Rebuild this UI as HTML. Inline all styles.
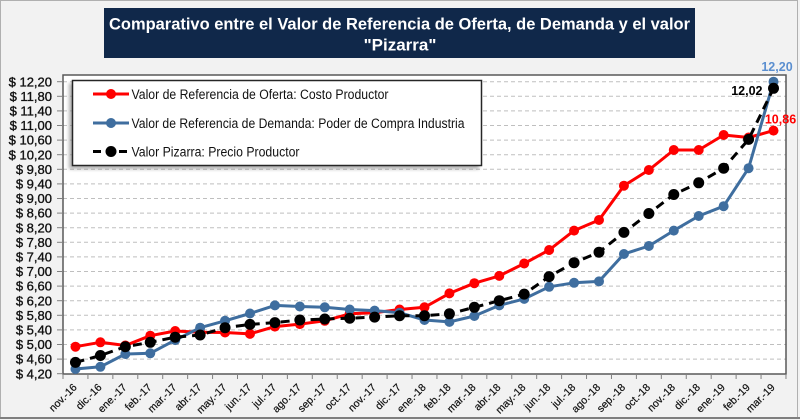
<!DOCTYPE html>
<html>
<head>
<meta charset="utf-8">
<style>
html,body{margin:0;padding:0;}
body{width:800px;height:420px;overflow:hidden;background:#f2f2f2;}
svg{display:block;}
</style>
</head>
<body>
<svg width="800" height="420" viewBox="0 0 800 420" xmlns="http://www.w3.org/2000/svg" font-family="'Liberation Sans', sans-serif">
  <defs>
    <filter id="sh" x="-10%" y="-20%" width="120%" height="150%">
      <feGaussianBlur stdDeviation="1.8"/>
    </filter>
  </defs>
  <rect x="0" y="0" width="800" height="420" fill="#f2f2f2"/>
  <rect x="0.5" y="0.5" width="797" height="417" fill="none" stroke="#b0b0b0" stroke-width="1"/>
  <line x1="0" y1="418" x2="800" y2="418" stroke="#7f7f7f" stroke-width="2"/>

  <rect x="104" y="8" width="591" height="50" fill="#10284a"/>
  <text x="399.5" y="29.3" fill="#ffffff" font-weight="bold" font-size="17" text-anchor="middle" textLength="581" lengthAdjust="spacingAndGlyphs">Comparativo entre el Valor de Referencia de Oferta, de Demanda y el valor</text>
  <text x="400" y="50.5" fill="#ffffff" font-weight="bold" font-size="17" text-anchor="middle">"Pizarra"</text>

  <rect x="63" y="75" width="723" height="299" fill="#ffffff"/>

  <g stroke="#bfbfbf" stroke-width="1" stroke-dasharray="4,3">
    <line x1="63" x2="786" y1="359.1" y2="359.1"/>
    <line x1="63" x2="786" y1="344.5" y2="344.5"/>
    <line x1="63" x2="786" y1="329.9" y2="329.9"/>
    <line x1="63" x2="786" y1="315.3" y2="315.3"/>
    <line x1="63" x2="786" y1="300.7" y2="300.7"/>
    <line x1="63" x2="786" y1="286.1" y2="286.1"/>
    <line x1="63" x2="786" y1="271.5" y2="271.5"/>
    <line x1="63" x2="786" y1="256.9" y2="256.9"/>
    <line x1="63" x2="786" y1="242.3" y2="242.3"/>
    <line x1="63" x2="786" y1="227.7" y2="227.7"/>
    <line x1="63" x2="786" y1="213.1" y2="213.1"/>
    <line x1="63" x2="786" y1="198.5" y2="198.5"/>
    <line x1="63" x2="786" y1="183.9" y2="183.9"/>
    <line x1="63" x2="786" y1="169.3" y2="169.3"/>
    <line x1="63" x2="786" y1="154.7" y2="154.7"/>
    <line x1="63" x2="786" y1="140.1" y2="140.1"/>
    <line x1="63" x2="786" y1="125.5" y2="125.5"/>
    <line x1="63" x2="786" y1="110.9" y2="110.9"/>
    <line x1="63" x2="786" y1="96.3" y2="96.3"/>
    <line x1="63" x2="786" y1="81.7" y2="81.7"/>
  </g>

  <rect x="63" y="75" width="723" height="299" fill="none" stroke="#595959" stroke-width="1.5"/>

  <g stroke="#808080" stroke-width="1">
    <line x1="57" x2="63" y1="373.7" y2="373.7"/>
    <line x1="57" x2="63" y1="359.1" y2="359.1"/>
    <line x1="57" x2="63" y1="344.5" y2="344.5"/>
    <line x1="57" x2="63" y1="329.9" y2="329.9"/>
    <line x1="57" x2="63" y1="315.3" y2="315.3"/>
    <line x1="57" x2="63" y1="300.7" y2="300.7"/>
    <line x1="57" x2="63" y1="286.1" y2="286.1"/>
    <line x1="57" x2="63" y1="271.5" y2="271.5"/>
    <line x1="57" x2="63" y1="256.9" y2="256.9"/>
    <line x1="57" x2="63" y1="242.3" y2="242.3"/>
    <line x1="57" x2="63" y1="227.7" y2="227.7"/>
    <line x1="57" x2="63" y1="213.1" y2="213.1"/>
    <line x1="57" x2="63" y1="198.5" y2="198.5"/>
    <line x1="57" x2="63" y1="183.9" y2="183.9"/>
    <line x1="57" x2="63" y1="169.3" y2="169.3"/>
    <line x1="57" x2="63" y1="154.7" y2="154.7"/>
    <line x1="57" x2="63" y1="140.1" y2="140.1"/>
    <line x1="57" x2="63" y1="125.5" y2="125.5"/>
    <line x1="57" x2="63" y1="110.9" y2="110.9"/>
    <line x1="57" x2="63" y1="96.3" y2="96.3"/>
    <line x1="57" x2="63" y1="81.7" y2="81.7"/>
  </g>

  <g font-size="13" fill="#111" stroke="#111" stroke-width="0.35" text-anchor="end">
    <text x="52" y="378.3">$ 4,20</text>
    <text x="52" y="363.7">$ 4,60</text>
    <text x="52" y="349.1">$ 5,00</text>
    <text x="52" y="334.5">$ 5,40</text>
    <text x="52" y="319.9">$ 5,80</text>
    <text x="52" y="305.3">$ 6,20</text>
    <text x="52" y="290.7">$ 6,60</text>
    <text x="52" y="276.1">$ 7,00</text>
    <text x="52" y="261.5">$ 7,40</text>
    <text x="52" y="246.9">$ 7,80</text>
    <text x="52" y="232.3">$ 8,20</text>
    <text x="52" y="217.7">$ 8,60</text>
    <text x="52" y="203.1">$ 9,00</text>
    <text x="52" y="188.5">$ 9,40</text>
    <text x="52" y="173.9">$ 9,80</text>
    <text x="52" y="159.3">$ 10,20</text>
    <text x="52" y="144.7">$ 10,60</text>
    <text x="52" y="130.1">$ 11,00</text>
    <text x="52" y="115.5">$ 11,40</text>
    <text x="52" y="100.9">$ 11,80</text>
    <text x="52" y="86.3">$ 12,20</text>
  </g>

  <g stroke="#808080" stroke-width="1">
    <line x1="63" x2="63" y1="374" y2="379"/>
    <line x1="87.93" x2="87.93" y1="374" y2="379"/>
    <line x1="112.86" x2="112.86" y1="374" y2="379"/>
    <line x1="137.79" x2="137.79" y1="374" y2="379"/>
    <line x1="162.72" x2="162.72" y1="374" y2="379"/>
    <line x1="187.65" x2="187.65" y1="374" y2="379"/>
    <line x1="212.58" x2="212.58" y1="374" y2="379"/>
    <line x1="237.51" x2="237.51" y1="374" y2="379"/>
    <line x1="262.44" x2="262.44" y1="374" y2="379"/>
    <line x1="287.37" x2="287.37" y1="374" y2="379"/>
    <line x1="312.3" x2="312.3" y1="374" y2="379"/>
    <line x1="337.23" x2="337.23" y1="374" y2="379"/>
    <line x1="362.16" x2="362.16" y1="374" y2="379"/>
    <line x1="387.09" x2="387.09" y1="374" y2="379"/>
    <line x1="412.02" x2="412.02" y1="374" y2="379"/>
    <line x1="436.95" x2="436.95" y1="374" y2="379"/>
    <line x1="461.88" x2="461.88" y1="374" y2="379"/>
    <line x1="486.81" x2="486.81" y1="374" y2="379"/>
    <line x1="511.74" x2="511.74" y1="374" y2="379"/>
    <line x1="536.67" x2="536.67" y1="374" y2="379"/>
    <line x1="561.6" x2="561.6" y1="374" y2="379"/>
    <line x1="586.53" x2="586.53" y1="374" y2="379"/>
    <line x1="611.46" x2="611.46" y1="374" y2="379"/>
    <line x1="636.39" x2="636.39" y1="374" y2="379"/>
    <line x1="661.32" x2="661.32" y1="374" y2="379"/>
    <line x1="686.25" x2="686.25" y1="374" y2="379"/>
    <line x1="711.18" x2="711.18" y1="374" y2="379"/>
    <line x1="736.11" x2="736.11" y1="374" y2="379"/>
    <line x1="761.04" x2="761.04" y1="374" y2="379"/>
    <line x1="785.97" x2="785.97" y1="374" y2="379"/>
  </g>

  <g font-size="10.5" fill="#111" stroke="#111" stroke-width="0.2" text-anchor="end">
    <text transform="translate(77.5,388) rotate(-45)">nov.-16</text>
    <text transform="translate(102.4,388) rotate(-45)">dic.-16</text>
    <text transform="translate(127.3,388) rotate(-45)">ene.-17</text>
    <text transform="translate(152.3,388) rotate(-45)">feb.-17</text>
    <text transform="translate(177.2,388) rotate(-45)">mar.-17</text>
    <text transform="translate(202.1,388) rotate(-45)">abr.-17</text>
    <text transform="translate(227.1,388) rotate(-45)">may.-17</text>
    <text transform="translate(252,388) rotate(-45)">jun.-17</text>
    <text transform="translate(276.9,388) rotate(-45)">jul.-17</text>
    <text transform="translate(301.8,388) rotate(-45)">ago.-17</text>
    <text transform="translate(326.8,388) rotate(-45)">sep.-17</text>
    <text transform="translate(351.7,388) rotate(-45)">oct.-17</text>
    <text transform="translate(376.6,388) rotate(-45)">nov.-17</text>
    <text transform="translate(401.6,388) rotate(-45)">dic.-17</text>
    <text transform="translate(426.5,388) rotate(-45)">ene.-18</text>
    <text transform="translate(451.4,388) rotate(-45)">feb.-18</text>
    <text transform="translate(476.4,388) rotate(-45)">mar.-18</text>
    <text transform="translate(501.3,388) rotate(-45)">abr.-18</text>
    <text transform="translate(526.2,388) rotate(-45)">may.-18</text>
    <text transform="translate(551.1,388) rotate(-45)">jun.-18</text>
    <text transform="translate(576.1,388) rotate(-45)">jul.-18</text>
    <text transform="translate(601,388) rotate(-45)">ago.-18</text>
    <text transform="translate(625.9,388) rotate(-45)">sep.-18</text>
    <text transform="translate(650.9,388) rotate(-45)">oct.-18</text>
    <text transform="translate(675.8,388) rotate(-45)">nov.-18</text>
    <text transform="translate(700.7,388) rotate(-45)">dic.-18</text>
    <text transform="translate(725.7,388) rotate(-45)">ene.-19</text>
    <text transform="translate(750.6,388) rotate(-45)">feb.-19</text>
    <text transform="translate(775.5,388) rotate(-45)">mar.-19</text>
  </g>

  <g>
    <polyline fill="none" stroke="#ff0000" stroke-width="3" stroke-linejoin="round"
      points="75.47,346.7 100.4,342.3 125.33,345.5 150.26,335.7 175.19,331 200.12,332.3 225.05,332.5 249.98,333.9 274.91,326.6 299.84,324.1 324.77,320.8 349.7,313.8 374.63,312.7 399.56,309.5 424.49,307.3 449.42,293.4 474.35,283.2 499.28,275.9 524.21,263.5 549.14,250 574.07,230.6 599,220 623.93,185.7 648.86,170 673.79,150 698.72,150 723.65,135 748.58,137.5 773.51,130.6"/>
    <g fill="#ff0000">
      <circle cx="75.47" cy="346.7" r="5"/><circle cx="100.4" cy="342.3" r="5"/><circle cx="125.33" cy="345.5" r="5"/><circle cx="150.26" cy="335.7" r="5"/><circle cx="175.19" cy="331" r="5"/><circle cx="200.12" cy="332.3" r="5"/><circle cx="225.05" cy="332.5" r="5"/><circle cx="249.98" cy="333.9" r="5"/><circle cx="274.91" cy="326.6" r="5"/><circle cx="299.84" cy="324.1" r="5"/><circle cx="324.77" cy="320.8" r="5"/><circle cx="349.7" cy="313.8" r="5"/><circle cx="374.63" cy="312.7" r="5"/><circle cx="399.56" cy="309.5" r="5"/><circle cx="424.49" cy="307.3" r="5"/><circle cx="449.42" cy="293.4" r="5"/><circle cx="474.35" cy="283.2" r="5"/><circle cx="499.28" cy="275.9" r="5"/><circle cx="524.21" cy="263.5" r="5"/><circle cx="549.14" cy="250" r="5"/><circle cx="574.07" cy="230.6" r="5"/><circle cx="599" cy="220" r="5"/><circle cx="623.93" cy="185.7" r="5"/><circle cx="648.86" cy="170" r="5"/><circle cx="673.79" cy="150" r="5"/><circle cx="698.72" cy="150" r="5"/><circle cx="723.65" cy="135" r="5"/><circle cx="748.58" cy="137.5" r="5"/><circle cx="773.51" cy="130.6" r="5"/>
    </g>
  </g>

  <g>
    <polyline fill="none" stroke="#3f6e9f" stroke-width="3" stroke-linejoin="round"
      points="75.47,369 100.4,366.8 125.33,354 150.26,353.3 175.19,340.1 200.12,327.7 225.05,320.8 249.98,313.5 274.91,305.4 299.84,306.5 324.77,307.3 349.7,309.5 374.63,310.6 399.56,312.7 424.49,320 449.42,321.9 474.35,316 499.28,305.4 524.21,298.9 549.14,286.8 574.07,282.8 599,281.4 623.93,254 648.86,246 673.79,230.6 698.72,216 723.65,206.2 748.58,168.2 773.51,81.7"/>
    <g fill="#3f6e9f">
      <circle cx="75.47" cy="369" r="5"/><circle cx="100.4" cy="366.8" r="5"/><circle cx="125.33" cy="354" r="5"/><circle cx="150.26" cy="353.3" r="5"/><circle cx="175.19" cy="340.1" r="5"/><circle cx="200.12" cy="327.7" r="5"/><circle cx="225.05" cy="320.8" r="5"/><circle cx="249.98" cy="313.5" r="5"/><circle cx="274.91" cy="305.4" r="5"/><circle cx="299.84" cy="306.5" r="5"/><circle cx="324.77" cy="307.3" r="5"/><circle cx="349.7" cy="309.5" r="5"/><circle cx="374.63" cy="310.6" r="5"/><circle cx="399.56" cy="312.7" r="5"/><circle cx="424.49" cy="320" r="5"/><circle cx="449.42" cy="321.9" r="5"/><circle cx="474.35" cy="316" r="5"/><circle cx="499.28" cy="305.4" r="5"/><circle cx="524.21" cy="298.9" r="5"/><circle cx="549.14" cy="286.8" r="5"/><circle cx="574.07" cy="282.8" r="5"/><circle cx="599" cy="281.4" r="5"/><circle cx="623.93" cy="254" r="5"/><circle cx="648.86" cy="246" r="5"/><circle cx="673.79" cy="230.6" r="5"/><circle cx="698.72" cy="216" r="5"/><circle cx="723.65" cy="206.2" r="5"/><circle cx="748.58" cy="168.2" r="5"/><circle cx="773.51" cy="81.7" r="5"/>
    </g>
  </g>

  <g>
    <polyline fill="none" stroke="#000000" stroke-width="3" stroke-dasharray="9,6" stroke-linejoin="round"
      points="75.47,362.4 100.4,355.5 125.33,346.7 150.26,342.3 175.19,337.2 200.12,335 225.05,327.7 249.98,324.4 274.91,322.6 299.84,320 324.77,319 349.7,318.2 374.63,317.1 399.56,315.7 424.49,315.7 449.42,313.8 474.35,307.3 499.28,300.7 524.21,294.1 549.14,276.6 574.07,262.7 599,252.2 623.93,232.4 648.86,213.5 673.79,194.5 698.72,182.8 723.65,168.2 748.58,139.4 773.51,88.3"/>
    <g fill="#000000">
      <circle cx="75.47" cy="362.4" r="5.5"/><circle cx="100.4" cy="355.5" r="5.5"/><circle cx="125.33" cy="346.7" r="5.5"/><circle cx="150.26" cy="342.3" r="5.5"/><circle cx="175.19" cy="337.2" r="5.5"/><circle cx="200.12" cy="335" r="5.5"/><circle cx="225.05" cy="327.7" r="5.5"/><circle cx="249.98" cy="324.4" r="5.5"/><circle cx="274.91" cy="322.6" r="5.5"/><circle cx="299.84" cy="320" r="5.5"/><circle cx="324.77" cy="319" r="5.5"/><circle cx="349.7" cy="318.2" r="5.5"/><circle cx="374.63" cy="317.1" r="5.5"/><circle cx="399.56" cy="315.7" r="5.5"/><circle cx="424.49" cy="315.7" r="5.5"/><circle cx="449.42" cy="313.8" r="5.5"/><circle cx="474.35" cy="307.3" r="5.5"/><circle cx="499.28" cy="300.7" r="5.5"/><circle cx="524.21" cy="294.1" r="5.5"/><circle cx="549.14" cy="276.6" r="5.5"/><circle cx="574.07" cy="262.7" r="5.5"/><circle cx="599" cy="252.2" r="5.5"/><circle cx="623.93" cy="232.4" r="5.5"/><circle cx="648.86" cy="213.5" r="5.5"/><circle cx="673.79" cy="194.5" r="5.5"/><circle cx="698.72" cy="182.8" r="5.5"/><circle cx="723.65" cy="168.2" r="5.5"/><circle cx="748.58" cy="139.4" r="5.5"/><circle cx="773.51" cy="88.3" r="5.5"/>
    </g>
  </g>

  <g font-size="12.5" font-weight="bold">
    <text x="777" y="71" fill="#5b8fd0" text-anchor="middle">12,20</text>
    <text x="762.5" y="95" fill="#000000" text-anchor="end">12,02</text>
    <text x="780.5" y="123.5" fill="#ff0000" text-anchor="middle">10,86</text>
  </g>

  <rect x="69" y="83" width="410" height="86" fill="#7a7a7a" opacity="0.6" filter="url(#sh)"/>
  <rect x="72.5" y="80.5" width="409" height="85" fill="#ffffff" stroke="#262626" stroke-width="1.5"/>
  <line x1="93" x2="129" y1="94" y2="94" stroke="#ff0000" stroke-width="3"/>
  <circle cx="111" cy="94" r="5" fill="#ff0000"/>
  <line x1="93" x2="129" y1="123" y2="123" stroke="#3f6e9f" stroke-width="3"/>
  <circle cx="111" cy="123" r="5" fill="#3f6e9f"/>
  <line x1="93" x2="129" y1="151.5" y2="151.5" stroke="#000000" stroke-width="3" stroke-dasharray="8,5"/>
  <circle cx="111" cy="151.5" r="5.5" fill="#000000"/>
  <g font-size="13.5" fill="#111">
    <text x="131.5" y="99" textLength="257" lengthAdjust="spacingAndGlyphs">Valor de Referencia de Oferta: Costo Productor</text>
    <text x="131.5" y="128" textLength="333" lengthAdjust="spacingAndGlyphs">Valor de Referencia de Demanda: Poder de Compra Industria</text>
    <text x="131.5" y="156.5" textLength="168" lengthAdjust="spacingAndGlyphs">Valor Pizarra: Precio Productor</text>
  </g>
</svg>
</body>
</html>
